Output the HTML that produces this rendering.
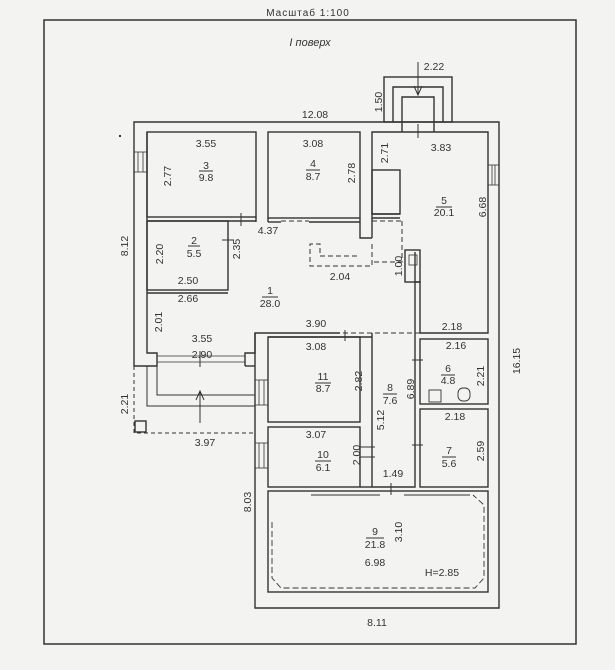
<!DOCTYPE html>
<html><head><meta charset="utf-8"><style>
html,body{margin:0;padding:0;background:#f3f3f1;}
svg{display:block;}
text{font-family:"Liberation Sans",sans-serif;font-size:10.5px;fill:#333;text-anchor:middle;}
</style></head><body>
<svg width="615" height="670" viewBox="0 0 615 670" xmlns="http://www.w3.org/2000/svg">
<rect width="615" height="670" fill="#f3f3f1"/>
<text x="308" y="16" style="font-size:10px;letter-spacing:1px">Масштаб 1:100</text>
<rect x="44" y="20" width="532" height="624" fill="none" stroke="#333" stroke-width="1.5"/>
<text x="310" y="46" style="font-style:italic;font-size:11px">I поверх</text>

<g fill="none" stroke="#333" stroke-width="1.4">
<!-- outer contour -->
<polyline points="255,333 255,608 499,608 499,122 134,122 134,366 147,366"/>
<!-- left inner wall -->
<polyline points="147,132 147,353 157,353 157,366 147,366"/>
<line x1="157" y1="356" x2="245" y2="356" stroke-width="0.8"/>
<line x1="157" y1="362" x2="245" y2="362" stroke-width="0.8"/>
<polyline points="245,366 245,353 255,353 255,333 268,333"/>
<line x1="255" y1="366" x2="245" y2="366"/>
<!-- porch railings -->
<polyline points="157,366 157,395 255,395" stroke-width="1"/>
<polyline points="147,366 147,406 255,406" stroke-width="1"/>
<polyline points="134,366 134,433 255,433" stroke-dasharray="4,3" stroke-width="1"/>
<rect x="135" y="421" width="11" height="11"/>
<line x1="200" y1="423" x2="200" y2="392" stroke-width="1"/>
<polyline points="196,400 200,391 204,400" stroke-width="1"/>
<!-- top porch -->
<rect x="384" y="77" width="68" height="45"/>
<polyline points="393,122 393,87 443,87 443,122"/>
<polyline points="402,132 402,97 434,97 434,132"/>
<line x1="418" y1="62" x2="418" y2="95" stroke-width="1"/>
<polyline points="414,86 418,95 422,86" stroke-width="1"/>
<line x1="418" y1="124" x2="418" y2="138" stroke-width="1"/>
<!-- room 3 -->
<rect x="147" y="132" width="109" height="85"/>
<!-- room 4 -->
<rect x="268" y="132" width="92" height="86"/>
<!-- kitchen / room 5 -->
<polyline points="372,238 372,132 488,132 488,333 420,333 420,282 415,282 415,252"/>
<polyline points="360,218 360,238 372,238"/>
<rect x="372" y="170" width="28" height="44"/>
<rect x="405" y="250" width="15" height="32"/>
<rect x="409" y="255" width="8" height="10" stroke-width="0.8"/>
<!-- wall line under rooms 3/4 -->
<line x1="147" y1="221" x2="228" y2="221"/>
<line x1="256" y1="217" x2="256" y2="222"/>
<line x1="268" y1="218" x2="268" y2="222"/>
<line x1="228" y1="221" x2="256" y2="221"/>
<line x1="268" y1="222" x2="281" y2="222"/>
<line x1="309" y1="222" x2="360" y2="222"/>
<line x1="372" y1="218" x2="400" y2="218"/>
<line x1="372" y1="214" x2="400" y2="214"/>
<g stroke-dasharray="5,3" stroke-width="1">
<line x1="281" y1="221" x2="309" y2="221"/>
<line x1="372" y1="221" x2="402" y2="221"/>
<polyline points="402,221 402,262 372,262"/>
<polyline points="372,244 372,266 310,266 310,244 320,244 320,256 360,256"/>
<line x1="420" y1="333" x2="340" y2="333"/>
</g>
<!-- room 2 -->
<rect x="147" y="221" width="81" height="69"/>
<line x1="147" y1="293" x2="228" y2="293"/>
<!-- hall lower boundary -->
<polyline points="268,337 360,337 372,337"/>
<line x1="268" y1="333" x2="340" y2="333"/>
<!-- room 11 -->
<rect x="268" y="337" width="92" height="85"/>
<!-- room 10 -->
<rect x="268" y="427" width="92" height="60"/>
<!-- corridor 8 -->
<polyline points="372,333 372,487 415,487 415,282"/>
<line x1="360" y1="487" x2="372" y2="487"/>
<line x1="360" y1="447" x2="375" y2="447" stroke-width="1"/>
<line x1="360" y1="457" x2="375" y2="457" stroke-width="1"/>
<!-- room 6 -->
<rect x="420" y="339" width="68" height="65"/>
<rect x="429" y="390" width="12" height="12" stroke-width="0.9"/>
<rect x="458" y="388" width="12" height="13" rx="5" stroke-width="0.9"/>
<!-- room 7 -->
<rect x="420" y="409" width="68" height="78"/>
<line x1="412" y1="360" x2="423" y2="360" stroke-width="1"/>
<line x1="412" y1="445" x2="423" y2="445" stroke-width="1"/>
<!-- room 9 -->
<rect x="268" y="491" width="220" height="101"/>
<line x1="311" y1="495" x2="380" y2="495" stroke-width="1"/>
<line x1="404" y1="495" x2="470" y2="495" stroke-width="1"/>
<polyline points="272,522 272,578 281,588 475,588 484,578 484,505 473,495" stroke-dasharray="6,3" stroke-width="0.9"/>
<line x1="391" y1="483" x2="391" y2="495" stroke-width="1"/>
<!-- windows -->
<g stroke-width="0.8">
<rect x="134" y="152" width="13" height="20"/><line x1="138" y1="152" x2="138" y2="172"/><line x1="143" y1="152" x2="143" y2="172"/>
<rect x="488" y="165" width="11" height="20"/><line x1="492" y1="165" x2="492" y2="185"/><line x1="495" y1="165" x2="495" y2="185"/>
<rect x="255" y="380" width="13" height="25"/><line x1="259" y1="380" x2="259" y2="405"/><line x1="264" y1="380" x2="264" y2="405"/>
<rect x="255" y="443" width="13" height="25"/><line x1="259" y1="443" x2="259" y2="468"/><line x1="264" y1="443" x2="264" y2="468"/>
</g>
<!-- door ticks -->
<g stroke-width="1">
<line x1="241" y1="213" x2="241" y2="226"/><line x1="222" y1="240" x2="234" y2="240"/>
<line x1="345" y1="330" x2="345" y2="341"/><line x1="200" y1="351" x2="200" y2="367"/>
</g>
<line x1="120" y1="135" x2="120" y2="137" stroke-width="2"/>
</g>

<text x="315" y="118">12.08</text>
<text x="434" y="70">2.22</text>
<text transform="translate(382,102) rotate(-90)">1.50</text>
<text x="206" y="147">3.55</text>
<text x="206" y="169">3</text><line x1="199" y1="171" x2="213" y2="171" stroke="#333"/><text x="206" y="181">9.8</text>
<text transform="translate(171,176) rotate(-90)">2.77</text>
<text x="313" y="147">3.08</text>
<text x="313" y="167">4</text><line x1="306" y1="170" x2="320" y2="170" stroke="#333"/><text x="313" y="180">8.7</text>
<text transform="translate(355,173) rotate(-90)">2.78</text>
<text transform="translate(388,153) rotate(-90)">2.71</text>
<text x="441" y="151">3.83</text>
<text x="444" y="204">5</text><line x1="436" y1="207" x2="452" y2="207" stroke="#333"/><text x="444" y="216">20.1</text>
<text transform="translate(486,207) rotate(-90)">6.68</text>
<text transform="translate(128,246) rotate(-90)">8.12</text>
<text x="268" y="234">4.37</text>
<text transform="translate(163,254) rotate(-90)">2.20</text>
<text x="194" y="244">2</text><line x1="188" y1="246" x2="200" y2="246" stroke="#333"/><text x="194" y="257">5.5</text>
<text transform="translate(240,249) rotate(-90)">2.35</text>
<text x="188" y="284">2.50</text>
<text x="340" y="280">2.04</text>
<text transform="translate(402,266) rotate(-90)">1.00</text>
<text x="188" y="302">2.66</text>
<text x="270" y="294">1</text><line x1="262" y1="297" x2="278" y2="297" stroke="#333"/><text x="270" y="307">28.0</text>
<text transform="translate(162,322) rotate(-90)">2.01</text>
<text x="316" y="327">3.90</text>
<text x="452" y="330">2.18</text>
<text x="202" y="342">3.55</text>
<text x="202" y="358">2.90</text>
<text x="316" y="350">3.08</text>
<text x="456" y="349">2.16</text>
<text x="323" y="380">11</text><line x1="315" y1="383" x2="331" y2="383" stroke="#333"/><text x="323" y="392">8.7</text>
<text transform="translate(362,381) rotate(-90)">2.82</text>
<text x="390" y="391">8</text><line x1="383" y1="394" x2="397" y2="394" stroke="#333"/><text x="390" y="404">7.6</text>
<text transform="translate(414,389) rotate(-90)">6.89</text>
<text x="448" y="372">6</text><line x1="441" y1="375" x2="455" y2="375" stroke="#333"/><text x="448" y="384">4.8</text>
<text transform="translate(484,376) rotate(-90)">2.21</text>
<text transform="translate(128,404) rotate(-90)">2.21</text>
<text transform="translate(520,361) rotate(-90)">16.15</text>
<text x="205" y="446">3.97</text>
<text x="316" y="438">3.07</text>
<text transform="translate(384,420) rotate(-90)">5.12</text>
<text x="455" y="420">2.18</text>
<text x="323" y="458">10</text><line x1="315" y1="461" x2="331" y2="461" stroke="#333"/><text x="323" y="471">6.1</text>
<text transform="translate(360,455) rotate(-90)">2.00</text>
<text x="449" y="454">7</text><line x1="442" y1="457" x2="456" y2="457" stroke="#333"/><text x="449" y="467">5.6</text>
<text transform="translate(484,451) rotate(-90)">2.59</text>
<text x="393" y="477">1.49</text>
<text transform="translate(251,502) rotate(-90)">8.03</text>
<text x="375" y="535">9</text><line x1="366" y1="538" x2="384" y2="538" stroke="#333"/><text x="375" y="548">21.8</text>
<text transform="translate(402,532) rotate(-90)">3.10</text>
<text x="375" y="566">6.98</text>
<text x="442" y="576">H=2.85</text>
<text x="377" y="626">8.11</text>
</svg>
</body></html>
